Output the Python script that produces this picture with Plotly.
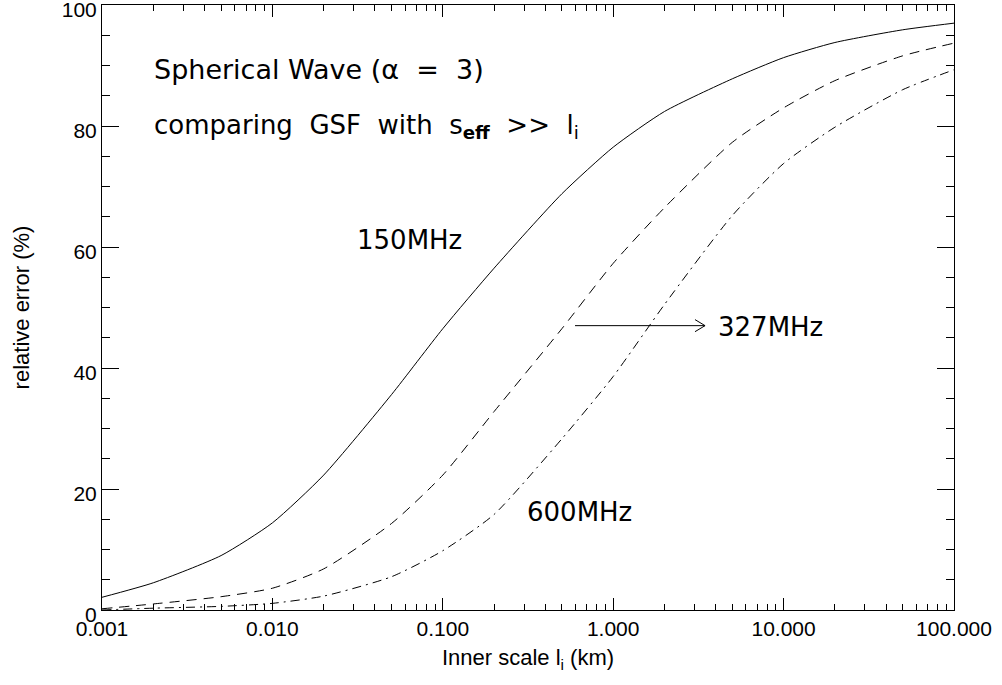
import math
import plotly.graph_objects as go

# Inner scale (km)
x_km = [0.001, 0.002, 0.005, 0.01, 0.02, 0.05, 0.1, 0.2, 0.5, 1, 2, 5, 10, 20, 50, 100]

# relative error (%)
err_150 = [2.1, 4.5, 9.0, 14.4, 22.3, 35.6, 46.5, 56.5, 68.8, 76.5, 82.4, 87.8, 91.3, 93.8, 95.9, 97.0]
err_327 = [0.2, 1.0, 2.2, 3.6, 6.8, 14.3, 22.3, 32.8, 46.5, 57.3, 66.5, 77.3, 83.0, 87.5, 91.6, 93.7]
err_600 = [0.0, 0.3, 0.6, 1.1, 2.3, 5.5, 9.8, 15.8, 28.3, 38.6, 50.5, 65.2, 73.8, 79.8, 86.0, 89.3]

tick_vals = [0.001, 0.01, 0.1, 1, 10, 100]
tick_text = ["0.001", "0.010", "0.100", "1.000", "10.000", "100.000"]

# arrow from label 327MHz
arrow_x = [0.597, 3.46]
arrow_y = [47.0, 47.0]
head_x = [3.02, 3.46, 3.02]
head_y = [48.0, 47.0, 46.0]

fig = go.Figure()
line_style = dict(color="black", width=1)
fig.add_trace(go.Scatter(x=x_km, y=err_150, mode="lines", line=dict(line_style, shape="spline", smoothing=0.6), name="150MHz"))
fig.add_trace(go.Scatter(x=x_km, y=err_327, mode="lines", line=dict(line_style, dash="10px,7px", shape="spline", smoothing=0.6), name="327MHz"))
fig.add_trace(go.Scatter(x=x_km, y=err_600, mode="lines", line=dict(line_style, dash="9px,5px,2px,5px", shape="spline", smoothing=0.6), name="600MHz"))
fig.add_trace(go.Scatter(x=arrow_x, y=arrow_y, mode="lines", line=line_style, hoverinfo="skip"))
fig.add_trace(go.Scatter(x=head_x, y=head_y, mode="lines", line=line_style, hoverinfo="skip"))

text_family = "DejaVu Sans, sans-serif"

# annotation x positions given in km, converted to log10 for the log axis
notes = [
    (0.00196, 89.3, "Spherical Wave (α  =  3)", 27),
    (0.00196, 79.9, "comparing  GSF  with  s<sub><b>eff</b></sub>  >>  l<sub>i</sub>", 26),
    (0.0306, 61.2, "150MHz", 26),
    (4.01, 46.7, "327MHz", 26),
    (0.303, 16.2, "600MHz", 26),
]
for nx, ny, txt, sz in notes:
    fig.add_annotation(x=math.log10(nx), y=ny, xref="x", yref="y", xanchor="left", yanchor="middle",
                       text=txt, showarrow=False, font=dict(family=text_family, size=sz, color="black"))

axis_family = "Liberation Sans, Arial, sans-serif"
axis_font = dict(family=axis_family, size=21, color="black")

fig.update_xaxes(type="log", range=[-3, 2], tickvals=tick_vals, ticktext=tick_text,
                 ticks="inside", ticklen=12, tickwidth=1, tickcolor="black",
                 minor=dict(ticks="inside", ticklen=6, tickcolor="black", dtick="D1", showgrid=False),
                 showline=True, linecolor="black", linewidth=1, mirror="ticks",
                 showgrid=False, zeroline=False, tickfont=axis_font, ticklabeloverflow="allow",
                 title=dict(text="Inner scale l<sub>i</sub> (km)", font=dict(family=axis_family, size=22, color="black"), standoff=10))
fig.update_yaxes(range=[0, 100], tickvals=[0, 20, 40, 60, 80, 100],
                 ticks="inside", ticklen=17, tickwidth=1, tickcolor="black",
                 minor=dict(ticks="inside", ticklen=8, tickcolor="black", dtick=5),
                 showline=True, linecolor="black", linewidth=1, mirror="ticks",
                 showgrid=False, zeroline=False, tickfont=axis_font,
                 ticklabeloverflow="allow", ticklabelshift=5,
                 title=dict(text="relative error (%)", font=dict(family=axis_family, size=22, color="black"), standoff=26))

fig.update_layout(width=1002, height=685, showlegend=False,
                  plot_bgcolor="white", paper_bgcolor="white",
                  margin=dict(l=102, r=48, t=5, b=75, autoexpand=False))

fig.write_html("out.html", config={"displayModeBar": False},
               post_script="document.body.style.margin='0px';")
